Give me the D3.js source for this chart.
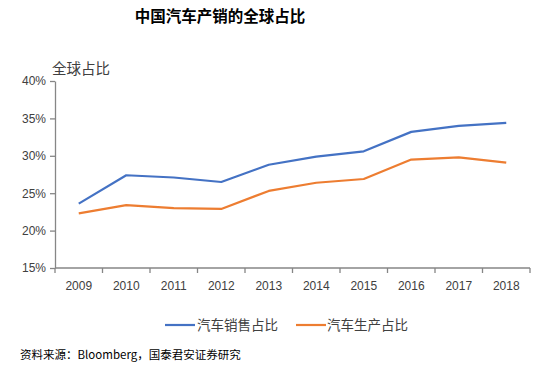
<!DOCTYPE html>
<html><head><meta charset="utf-8">
<script src="https://cdn.jsdelivr.net/npm/d3@7"></script>
<style>body{margin:0;background:#fff;}svg{display:block;font-family:"Noto Sans CJK SC","Microsoft YaHei",sans-serif;}</style>
</head><body>
<svg id="c" width="550" height="365"></svg>
<script>
const years = ["2009","2010","2011","2012","2013","2014","2015","2016","2017","2018"];
const salesShare = [23.6,27.4,27.1,26.5,28.8,29.9,30.6,33.2,34.0,34.4];
const prodShare = [22.3,23.4,23.0,22.9,25.3,26.4,26.9,29.5,29.8,29.1];
const yTicks = [15,20,25,30,35,40];
const seriesNames = ["汽车销售占比","汽车生产占比"];
const colors = ["#4472C4","#ED7D31"];

const svg = d3.select("#c");
const x = d3.scaleBand().domain(years).range([55,530]);
const y = d3.scaleLinear().domain([15,40]).range([268,81]);
const axisColor = "#868686";
const textColor = "#404040";

svg.append("text").attr("x",220).attr("y",22).attr("text-anchor","middle")
  .attr("font-size",15.5).attr("font-weight","bold").attr("fill","#000").text("中国汽车产销的全球占比");
svg.append("text").attr("x",52).attr("y",74).attr("font-size",14.5).attr("fill",textColor).text("全球占比");

// y axis
const ya = svg.append("g").attr("transform","translate(55,0)")
  .call(d3.axisLeft(y).tickValues(yTicks).tickFormat(d=>d+"%").tickSize(5).tickSizeOuter(0));
ya.select(".domain").attr("stroke",axisColor).attr("stroke-width",1.3);
ya.selectAll(".tick line").attr("stroke",axisColor).attr("stroke-width",1.3);
ya.selectAll(".tick text").attr("font-size",12).attr("fill",textColor).attr("x",-9)
  .attr("font-family","Liberation Sans, Arial, sans-serif");

// x axis
const xa = svg.append("g").attr("transform","translate(0,268)");
xa.append("line").attr("x1",55).attr("x2",530).attr("stroke",axisColor).attr("stroke-width",1.3);
const bounds = years.map(d=>x(d)).concat([x.range()[1]]);
xa.selectAll("line.tk").data(bounds).join("line").attr("class","tk")
  .attr("x1",d=>d).attr("x2",d=>d).attr("y1",0).attr("y2",5).attr("stroke",axisColor).attr("stroke-width",1.3);
xa.selectAll("text").data(years).join("text")
  .attr("x",d=>x(d)+x.bandwidth()/2).attr("y",22).attr("text-anchor","middle")
  .attr("font-size",12).attr("fill",textColor).attr("font-family","Liberation Sans, Arial, sans-serif").text(d=>d);

const line = d3.line().x((d,i)=>x(years[i])+x.bandwidth()/2).y(d=>y(d));
[salesShare,prodShare].forEach((s,k)=>{
  svg.append("path").datum(s).attr("d",line).attr("fill","none")
    .attr("stroke",colors[k]).attr("stroke-width",2.2).attr("stroke-linejoin","round");
});

// legend
const lg = [[165,197],[296,327]];
seriesNames.forEach((n,k)=>{
  svg.append("line").attr("x1",lg[k][0]).attr("x2",lg[k][0]+30).attr("y1",325).attr("y2",325)
    .attr("stroke",colors[k]).attr("stroke-width",2.2);
  svg.append("text").attr("x",lg[k][1]).attr("y",330).attr("font-size",13.5).attr("fill",textColor).text(n);
});

svg.append("text").attr("x",20).attr("y",359).attr("font-size",11.5).attr("fill","#000")
  .text("资料来源：Bloomberg，国泰君安证券研究");
</script>
</body></html>
